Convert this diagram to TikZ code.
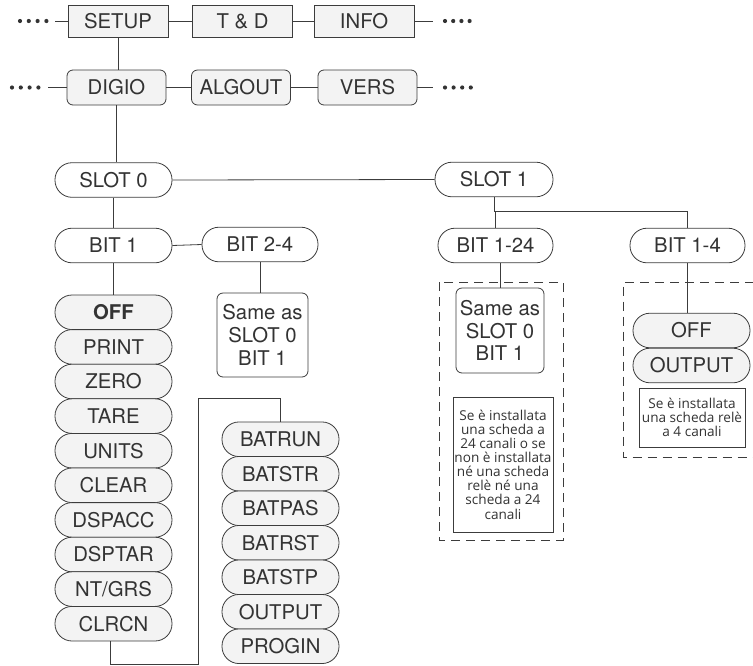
\documentclass[tikz,border=0pt]{standalone}
\usepackage{fontspec}
\setmainfont{TeX Gyre Heros}
\newfontfamily\notefont{Open Sans}
\definecolor{ln}{HTML}{3C3C3C}
\definecolor{txt}{HTML}{333333}
\definecolor{gry}{HTML}{F3F3F3}
\begin{document}
\begin{tikzpicture}[x=1pt,y=-1pt,line width=0.8pt,draw=ln,
  lbl/.style={font=\fontsize{20.3}{22.7}\selectfont,text=txt,inner sep=0pt},
  sqbox/.style={lbl,draw=ln,fill=gry,minimum width=100pt,minimum height=32pt},
  rbox/.style={lbl,draw=ln,fill=gry,rounded corners=6pt,minimum width=99pt,minimum height=35pt},
  pill/.style={lbl,draw=ln,fill=white,rounded corners=17pt,minimum width=117pt,minimum height=34.6pt},
  gpill/.style={pill,fill=gry},
  samebox/.style={lbl,draw=ln,fill=white,rounded corners=6pt,align=center,minimum height=85pt},
  notebox/.style={draw=ln,fill=white,font=\notefont\fontsize{13.6}{14.1}\selectfont,text=txt,align=center,inner sep=0pt},
  dashbox/.style={draw=ln,dash pattern=on 9pt off 6pt}]
\useasboundingbox (0,0) rectangle (753,665);

% top row
\node[sqbox] (setup) at (118,21) {SETUP};
\node[sqbox] (td) at (242.5,21) {T \& D};
\node[sqbox] (info) at (364,21) {INFO};
\coordinate (d1l) at (55,21);
\coordinate (d1r) at (433,21);
\foreach \i in {0,1,2,3} {\fill[txt] (20+8.8*\i,21) circle (2.1pt);}
\foreach \i in {0,1,2,3} {\fill[txt] (445+8.2*\i,21) circle (2.1pt);}
\draw (d1l) -- (setup.west);
\draw (setup.east) -- (td.west);
\draw (td.east) -- (info.west);
\draw (info.east) -- (d1r);

% second row
\node[rbox] (digio) at (116.5,87.5) {DIGIO};
\node[rbox] (algout) at (241,87.5) {ALGOUT};
\node[rbox] (vers) at (367.5,87.5) {VERS};
\coordinate (d2l) at (48,87.5);
\coordinate (d2r) at (433,87.5);
\foreach \i in {0,1,2,3} {\fill[txt] (12+8.8*\i,87.5) circle (2.1pt);}
\foreach \i in {0,1,2,3} {\fill[txt] (445+8.6*\i,87.5) circle (2.1pt);}
\draw (d2l) -- (digio.west);
\draw (digio.east) -- (algout.west);
\draw (algout.east) -- (vers.west);
\draw (vers.east) -- (d2r);
\draw (setup.south) -- (setup.south |- digio.north);

% slots
\node[pill] (slot0) at (113.5,180) {SLOT 0};
\node[pill,minimum width=118pt] (slot1) at (494,179.5) {SLOT 1};
\draw (digio.south) -- (digio.south |- slot0.north);
\draw (slot0.east) -- (slot1.west);

% bits
\node[pill] (bit1) at (113.5,245.5) {BIT 1};
\node[pill,minimum width=116pt] (bit24) at (260,244.5) {BIT 2-4};
\node[pill,minimum width=115pt] (bit124) at (495.5,245.5) {BIT 1-24};
\node[pill,minimum width=115pt] (bit14) at (687.5,245.5) {BIT 1-4};
\draw (slot0.south) -- (bit1.north);
\draw (bit1.east) -- (bit24.west);
\coordinate (br) at (494,211);
\draw (slot1.south) -- (br) -- (br -| bit124.north) -- (bit124.north);
\draw (br) -- (br -| bit14.north) -- (bit14.north);

% same-as boxes
\node[samebox,minimum width=91pt,minimum height=84pt] (same1) at (262.5,335) {Same as\\SLOT 0\\BIT 1};
\draw (bit24.south) -- (bit24.south |- same1.north);

\draw[dashbox] (439,282) rectangle (563,540);
\node[samebox,minimum width=88pt] (same2) at (500,330.5) {Same as\\SLOT 0\\BIT 1};
\draw (bit124.south -| same2.north) -- (same2.north);
\node[notebox,minimum width=100pt,minimum height=135pt] (note1) at (503,464.5)
  {Se è installata\\una scheda a\\24 canali o se\\non è installata\\né una scheda\\relè né una\\scheda a 24\\canali};

\draw[dashbox] (753.5,282) -- (623,282) -- (623,457) -- (753.5,457);
\node[gpill] (off2) at (691.5,330.5) {OFF};
\node[gpill] (out2) at (691.5,365.5) {OUTPUT};
\draw (bit14.south) -- (bit14.south |- off2.north);
\node[notebox,minimum width=106pt,minimum height=59pt] (note2) at (692,417.5)
  {Se è installata\\una scheda relè\\a 4 canali};

% left list
\node[gpill] (off) at (113.5,312.3) {\bfseries OFF};
\node[gpill] (print) at (113.5,346.9) {PRINT};
\node[gpill] (zero) at (113.5,381.5) {ZERO};
\node[gpill] (tare) at (113.5,416.1) {TARE};
\node[gpill] (units) at (113.5,450.7) {UNITS};
\node[gpill] (clear) at (113.5,485.3) {CLEAR};
\node[gpill] (dspacc) at (113.5,519.9) {DSPACC};
\node[gpill] (dsptar) at (113.5,554.5) {DSPTAR};
\node[gpill] (ntgrs) at (113.5,589.1) {NT/GRS};
\node[gpill] (clrcn) at (113.5,623.7) {CLRCN};
\draw (bit1.south) -- (off.north);

% right list
\node[gpill] (batrun) at (280.5,439.25) {BATRUN};
\node[gpill] (batstr) at (280.5,473.75) {BATSTR};
\node[gpill] (batpas) at (280.5,508.25) {BATPAS};
\node[gpill] (batrst) at (280.5,542.75) {BATRST};
\node[gpill] (batstp) at (280.5,577.25) {BATSTP};
\node[gpill] (output) at (280.5,611.75) {OUTPUT};
\node[gpill] (progin) at (280.5,646.25) {PROGIN};

\coordinate (c1) at (110,664);
\coordinate (c2) at (198,664);
\coordinate (c3) at (198,398);
\coordinate (c4) at (280.5,398);
\draw (clrcn.south -| c1) -- (c1) -- (c2) -- (c3) -- (c4) -- (batrun.north);
\end{tikzpicture}
\end{document}
